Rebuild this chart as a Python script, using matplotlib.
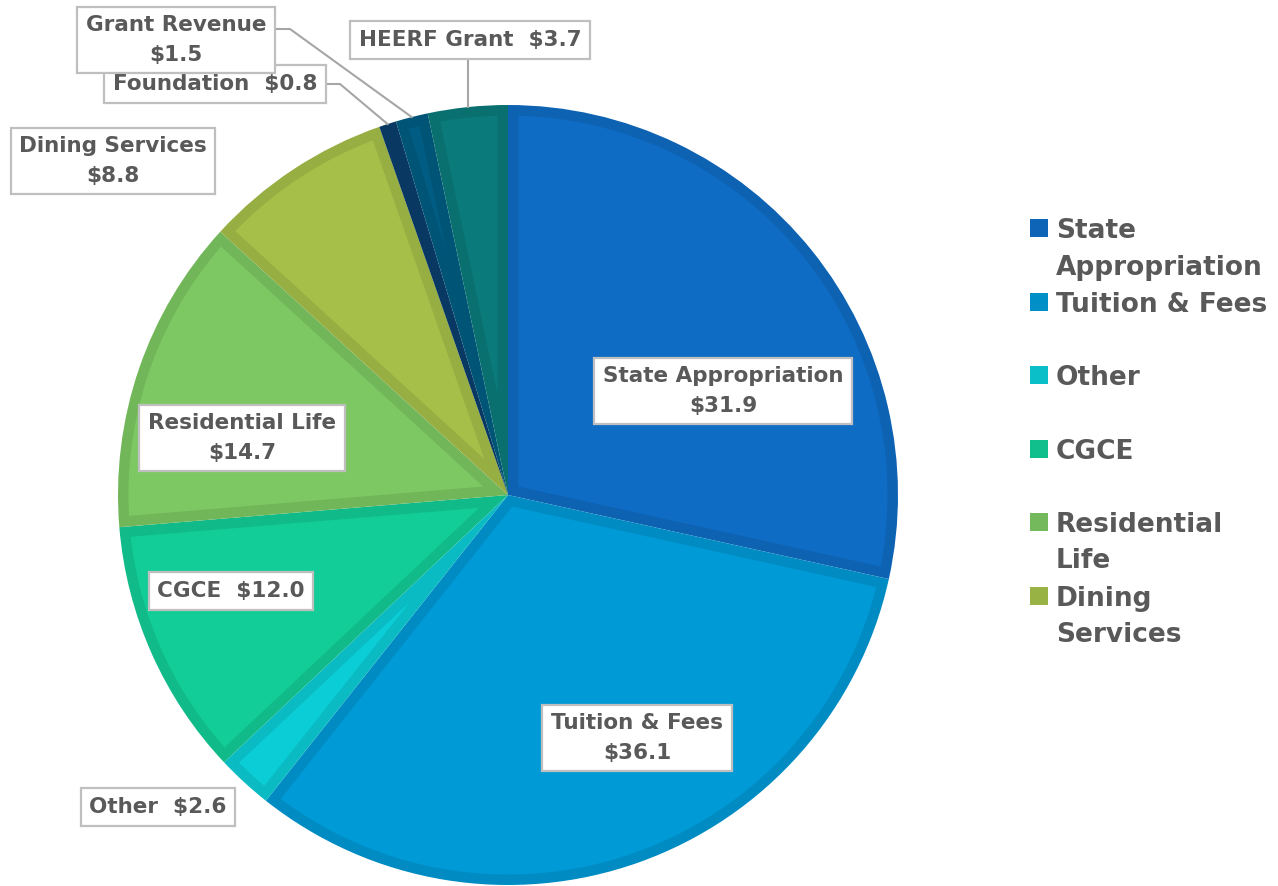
import matplotlib
matplotlib.use("Agg")
import matplotlib.pyplot as plt
from matplotlib.patches import Rectangle, Polygon
import matplotlib.colors as mcolors
import numpy as np

# revenue sources ($ millions), clockwise from 12 o'clock
categories = ["State Appropriation", "Tuition & Fees", "Other", "CGCE",
              "Residential Life", "Dining Services", "Foundation",
              "Grant Revenue", "HEERF Grant"]
values = [31.9, 36.1, 2.6, 12.0, 14.7, 8.8, 0.8, 1.5, 3.7]
colors = ["#0F6CC4", "#009AD6", "#0BCDD6", "#12CD97", "#7DC863",
          "#A5BF49", "#0A3E6C", "#005C82", "#0A7B7A"]
legend_labels = ["State\nAppropriation", "Tuition & Fees", "Other", "CGCE",
                 "Residential\nLife", "Dining\nServices"]

# data label layout: (centre x, centre y) in pixels from top-left
label_pos = [(723, 391), (637, 738), (158, 807), (231, 591), (242, 438),
             (113, 161), (215, 84), (176, 40), (470, 40)]
one_line = [False, False, True, True, False, False, True, False, True]

W, H = 1278, 886
TXT = "#595959"
BORDER = 10.5  # inner border width of each slice, px

def darker(c, f=0.91):
    r, g, b = mcolors.to_rgb(c)
    return (r * f, g * f, b * f)

def inset(w, d):
    """polygon of the wedge shrunk inwards by d, or None if too thin"""
    t1, t2 = np.deg2rad(w.theta1), np.deg2rad(w.theta2)
    half = (t2 - t1) / 2
    r = w.r - d
    apex = d / np.sin(half)
    if apex >= r:
        return None
    s = np.sqrt(r ** 2 - d ** 2)
    off = np.arctan2(d, s)
    arc = np.linspace(t1 + off, t2 - off, 120)
    m = t1 + half
    cx0, cy0 = w.center
    xs = np.concatenate([[apex * np.cos(m)], r * np.cos(arc)]) + cx0
    ys = np.concatenate([[apex * np.sin(m)], r * np.sin(arc)]) + cy0
    return np.column_stack([xs, ys])

fig = plt.figure(figsize=(W / 100, H / 100), dpi=100)
ax = fig.add_axes([0, 0, 1, 1])
cx, cy, R = 508, H - 495, 390
wedges, _ = ax.pie(values, colors=colors, startangle=90, counterclock=False,
                   center=(cx, cy), radius=R)
for w, c in zip(wedges, colors):
    w.set_facecolor(darker(c))
    w.set_edgecolor("none")
    pts = inset(w, BORDER)
    if pts is not None:
        ax.add_patch(Polygon(pts, closed=True, fc=c, ec="none", zorder=w.get_zorder()))
ax.set_xlim(0, W)
ax.set_ylim(0, H)
ax.set_aspect("equal")
ax.axis("off")

# data labels
for name, v, (x, y), single in zip(categories, values, label_pos, one_line):
    txt = f"{name}  ${v:.1f}" if single else f"{name}\n${v:.1f}"
    ax.text(x, H - y, txt, ha="center", va="center", fontsize=15.5,
            fontweight="bold", color=TXT, linespacing=1.6, zorder=5,
            bbox=dict(boxstyle="square,pad=0.4", fc="white", ec="#BFBFBF", lw=1.6))

# leader lines for the small slices
total = sum(values)
cum = np.cumsum([0] + values)
leaders = {6: (326, 84), 7: (276, 29), 8: None}
for i, start in leaders.items():
    mid = (cum[i] + cum[i + 1]) / 2 / total * 360
    ang = np.deg2rad(90 - mid)
    px, py = cx + R * np.cos(ang), cy + R * np.sin(ang)
    if start is None:
        xs, ys = [px, px], [py, H - 58]
    else:
        xs = [start[0], start[0] + 14, px]
        ys = [H - start[1], H - start[1], py]
    ax.plot(xs, ys, color="#A6A6A6", lw=1.5, zorder=4)

# legend (only first six entries fit)
for i, (lab, c) in enumerate(zip(legend_labels, colors)):
    y0 = 228 + 73.5 * i
    ax.add_patch(Rectangle((1030, H - y0 - 9), 18, 18, fc=darker(c, 0.93), ec="none"))
    for j, line in enumerate(lab.split("\n")):
        ax.text(1056, H - (y0 + 36.5 * j) - 10, line, ha="left", va="baseline",
                fontsize=19, fontweight="bold", color=TXT)

fig.savefig("out.png", dpi=100)
